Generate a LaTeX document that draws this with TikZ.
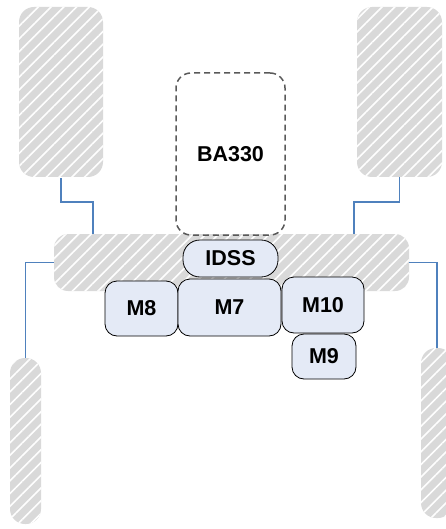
\documentclass[tikz,border=0pt]{standalone}
\usepackage{fontspec}
\setmainfont{Liberation Sans}
\usetikzlibrary{patterns.meta}
\definecolor{hatchgray}{HTML}{D9D9D9}
\definecolor{linkblue}{HTML}{4F81BD}
\definecolor{modfill}{HTML}{E4EAF6}
\definecolor{dashgray}{HTML}{595959}
\tikzset{
  hatched/.style={draw=none, rounded corners=15pt, inner sep=0pt,
    preaction={fill=hatchgray},
    pattern={Lines[angle=45,distance=9pt,line width=1.6pt]}, pattern color=white!97!hatchgray},
  module/.style={draw=black, line width=0.8pt, fill=modfill, rounded corners=12pt,
    inner sep=0pt, font=\fontsize{21.5}{25}\selectfont\bfseries},
  dashbox/.style={draw=dashgray, line width=1.5pt, dash pattern=on 6pt off 4pt,
    rounded corners=15pt, inner sep=0pt, font=\fontsize{21.5}{25}\selectfont\bfseries},
  link/.style={draw=linkblue, line width=1.1pt}
}
\begin{document}
\begin{tikzpicture}[x=1pt,y=-1pt]
\useasboundingbox (0,0) rectangle (445,529);
% wheel/blocks
\node[hatched, minimum width=84pt, minimum height=170pt] (tl) at (61,92) {};
\node[hatched, minimum width=85pt, minimum height=170pt] (tr) at (399.5,92) {};
\node[hatched, minimum width=31pt, minimum height=166pt] (ll) at (25.5,441) {};
\node[hatched, minimum width=32pt, minimum height=170pt] (lr) at (437,433) {};
\node[hatched, minimum width=355pt, minimum height=57pt, rounded corners=14pt] (bar) at (231.5,262.5) {};
% connectors
\coordinate (tlb) at (61,202);
\coordinate (tlc) at (93,202);
\coordinate (trb) at (399.5,202);
\coordinate (trc) at (354,202);
\draw[link] (tl.south) -- (tlb) -- (tlc) -- (tlc |- bar.north);
\draw[link] (tr.south) -- (trb) -- (trc) -- (trc |- bar.north);
\draw[link] (bar.west) -| (ll.north);
\draw[link] (bar.east) -| (lr.north);
% BA330
\node[dashbox, minimum width=109pt, minimum height=162pt] (ba) at (230.5,154) {BA330};
% modules
\node[module, minimum width=95pt, minimum height=37pt, rounded corners=17pt] (idss) at (230.5,258.5) {IDSS};
\node[module, minimum width=73pt, minimum height=55pt] (m8) at (141.5,308.5) {M8};
\node[module, minimum width=103pt, minimum height=57pt] (m7) at (229.5,307.5) {M7};
\node[module, minimum width=82pt, minimum height=56pt] (m10) at (323,305) {M10};
\node[module, minimum width=64pt, minimum height=45pt] (m9) at (324,356.5) {M9};
\end{tikzpicture}
\end{document}
